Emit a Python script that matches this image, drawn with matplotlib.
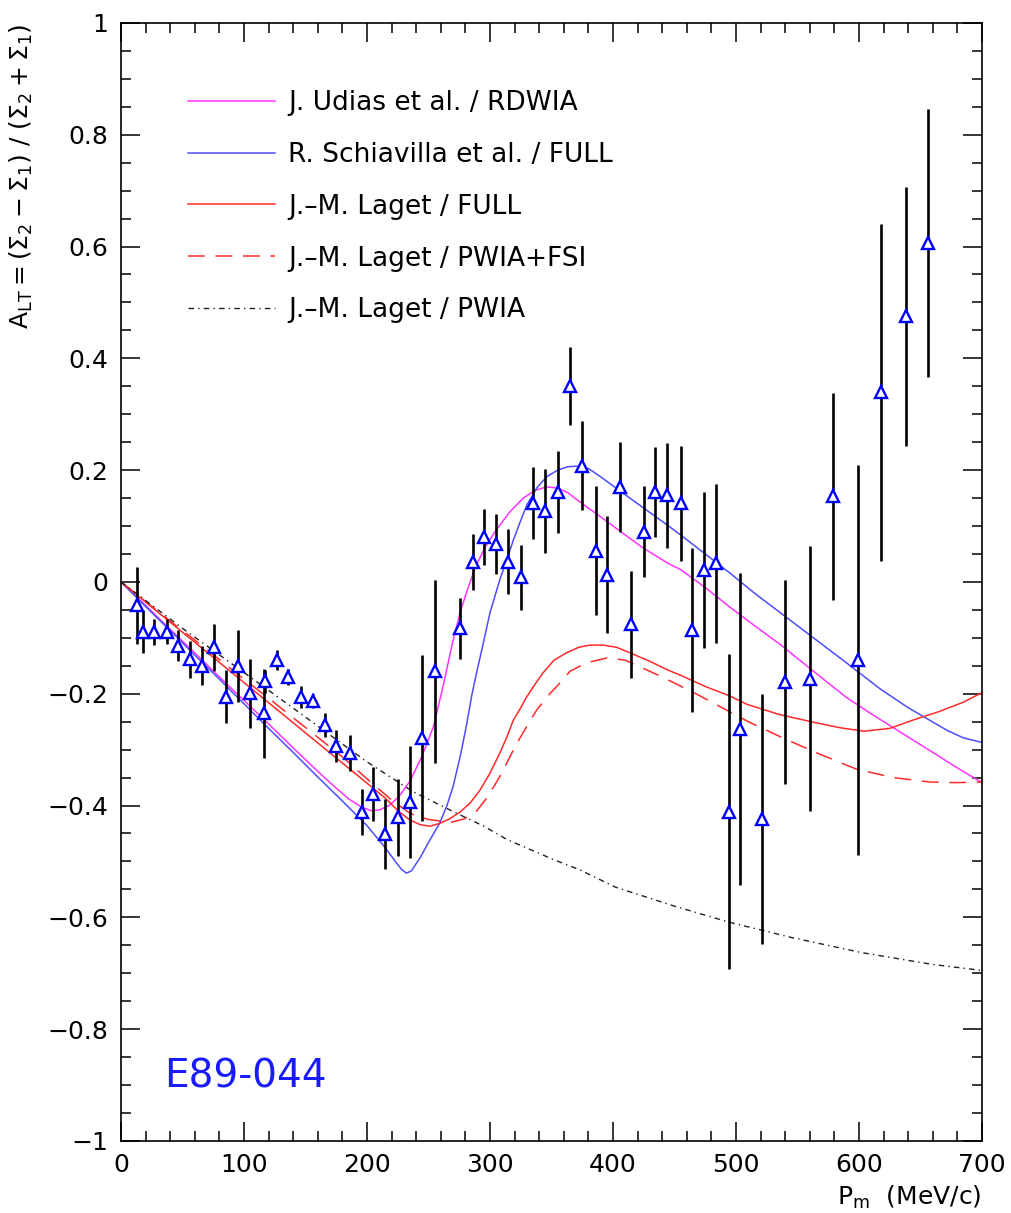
import numpy as np
import matplotlib
matplotlib.use("Agg")
import matplotlib.pyplot as plt

plt.rcParams['font.family'] = ['DejaVu Sans']
plt.rcParams['mathtext.default'] = 'regular'

# data points: missing momentum (MeV/c), asymmetry and its error
pm_data = [13, 18, 27, 37, 46, 56, 66, 76, 85, 95, 105, 116, 117, 127, 136, 146, 156, 166, 175,
           186, 196, 205, 215, 225, 235, 245, 255, 276, 286, 295, 305, 315, 325, 335, 345, 355,
           365, 375, 386, 395, 406, 415, 425, 434, 444, 455, 464, 474, 484, 494, 503, 521,
           540, 560, 579, 599, 618, 638, 656]
alt_data = [-0.042, -0.089, -0.089, -0.089, -0.114, -0.138, -0.150, -0.117, -0.205, -0.150,
            -0.199, -0.235, -0.178, -0.140, -0.170, -0.206, -0.213, -0.256, -0.294,
            -0.306, -0.412, -0.379, -0.451, -0.421, -0.394, -0.279, -0.160, -0.083, 0.036,
            0.081, 0.068, 0.036, 0.008, 0.141, 0.127, 0.161, 0.351, 0.208, 0.056, 0.013,
            0.170, -0.076, 0.090, 0.161, 0.155, 0.141, -0.086, 0.021, 0.033, -0.411, -0.263,
            -0.424, -0.179, -0.173, 0.153, -0.140, 0.339, 0.475, 0.606]
alt_err = [0.069, 0.038, 0.023, 0.022, 0.028, 0.033, 0.035, 0.042, 0.047, 0.064,
           0.062, 0.080, 0.020, 0.018, 0.015, 0.020, 0.012, 0.022, 0.029,
           0.033, 0.041, 0.048, 0.062, 0.069, 0.100, 0.149, 0.164, 0.054, 0.050,
           0.050, 0.054, 0.058, 0.058, 0.065, 0.075, 0.073, 0.070, 0.080, 0.116, 0.105,
           0.080, 0.095, 0.082, 0.081, 0.094, 0.103, 0.147, 0.140, 0.143, 0.282, 0.279,
           0.223, 0.182, 0.237, 0.185, 0.349, 0.301, 0.231, 0.240]

# J. Udias et al. / RDWIA
udias_x = [0, 20, 40, 60, 80, 100, 120, 140, 160, 172, 185, 195, 203, 210, 218, 226, 235, 244,
           254, 262, 270, 276, 282, 288, 296, 305, 316, 327, 337, 346, 355, 363, 375, 389, 405,
           425, 445, 455, 475, 495, 515, 536, 562, 590, 610, 631, 655, 678, 700]
udias_y = [0, -0.042, -0.085, -0.127, -0.170, -0.212, -0.254, -0.297, -0.339, -0.363, -0.388,
           -0.402, -0.409, -0.408, -0.400, -0.384, -0.356, -0.315, -0.259, -0.185, -0.104,
           -0.052, -0.012, 0.026, 0.062, 0.093, 0.125, 0.150, 0.164, 0.170, 0.168, 0.160,
           0.140, 0.118, 0.092, 0.060, 0.033, 0.022, -0.010, -0.045, -0.078, -0.112, -0.158,
           -0.207, -0.236, -0.265, -0.298, -0.330, -0.359]

# R. Schiavilla et al. / FULL
schia_x = [0, 20, 40, 60, 80, 100, 120, 140, 160, 180, 200, 215, 223, 228, 232, 236, 243, 251,
           259, 265, 270, 276, 281, 285, 289, 294, 300, 308, 314, 319, 325, 330, 338, 346, 355,
           363, 370, 380, 390, 403, 420, 444, 455, 475, 495, 515, 536, 560, 590, 617, 640, 658,
           672, 685, 700]
schia_y = [0, -0.044, -0.087, -0.131, -0.174, -0.218, -0.262, -0.305, -0.349, -0.392, -0.436,
           -0.476, -0.500, -0.514, -0.521, -0.517, -0.494, -0.462, -0.432, -0.400, -0.366,
           -0.310, -0.255, -0.205, -0.163, -0.115, -0.055, 0.004, 0.042, 0.075, 0.110, 0.138,
           0.168, 0.188, 0.200, 0.206, 0.207, 0.203, 0.188, 0.167, 0.140, 0.102, 0.084, 0.050,
           0.016, -0.020, -0.055, -0.095, -0.145, -0.191, -0.225, -0.248, -0.266, -0.279,
           -0.287]

# J.-M. Laget / FULL
laget_x = [0, 20, 40, 60, 80, 100, 120, 140, 160, 180, 200, 215, 226, 235, 243, 251, 259, 267,
           276, 284, 292, 300, 308, 314, 319, 325, 330, 336, 343, 352, 362, 372, 381, 392, 403,
           415, 430, 444, 455, 475, 495, 509, 535, 563, 585, 604, 625, 644, 665, 685, 700]
laget_y = [0, -0.036, -0.072, -0.108, -0.144, -0.180, -0.216, -0.252, -0.288, -0.324, -0.360,
           -0.387, -0.411, -0.426, -0.434, -0.437, -0.432, -0.424, -0.411, -0.395, -0.372,
           -0.342, -0.306, -0.276, -0.247, -0.225, -0.205, -0.185, -0.163, -0.140, -0.127,
           -0.117, -0.113, -0.113, -0.117, -0.128, -0.142, -0.157, -0.167, -0.187, -0.204,
           -0.219, -0.237, -0.251, -0.261, -0.267, -0.262, -0.247, -0.232, -0.215, -0.198]

# J.-M. Laget / PWIA+FSI
fsi_x = [0, 20, 40, 60, 80, 100, 120, 140, 160, 180, 205, 220, 235, 250, 268, 279, 289, 298,
         308, 315, 322, 330, 338, 349, 358, 365, 378, 395, 410, 422, 437, 452, 470, 487, 510,
         538, 568, 598, 628, 658, 680, 700]
fsi_y = [0, -0.035, -0.070, -0.104, -0.139, -0.174, -0.208, -0.243, -0.278, -0.313, -0.362,
         -0.390, -0.414, -0.425, -0.430, -0.424, -0.410, -0.385, -0.348, -0.318, -0.288,
         -0.258, -0.229, -0.199, -0.178, -0.160, -0.145, -0.136, -0.140, -0.152, -0.167,
         -0.183, -0.203, -0.223, -0.250, -0.279, -0.308, -0.335, -0.350, -0.358, -0.359, -0.358]

# J.-M. Laget / PWIA
pwia_x = [0, 50, 91, 127, 162, 200, 238, 274, 295, 314, 332, 352, 373, 402, 450, 495, 545,
          602, 659, 700]
pwia_y = [0, -0.083, -0.148, -0.205, -0.261, -0.322, -0.376, -0.415, -0.437, -0.461, -0.478,
          -0.497, -0.515, -0.546, -0.580, -0.609, -0.636, -0.663, -0.684, -0.695]

fig = plt.figure(figsize=(10.11, 12.13), dpi=100)
ax = fig.add_axes([0.1197, 0.0594, 0.8516, 0.9217])

ax.plot(udias_x, udias_y, color='#ff33ff', lw=1.1, label='J. Udias et al. / RDWIA')
ax.plot(schia_x, schia_y, color='#4d4dff', lw=1.1, label='R. Schiavilla et al. / FULL')
ax.plot(laget_x, laget_y, color='#ff2a2a', lw=1.1, label='J.\u2013M. Laget / FULL')
ax.plot(fsi_x, fsi_y, color='#ff2a2a', lw=1.1, ls=(0, (11, 7)), label='J.\u2013M. Laget / PWIA+FSI')
ax.plot(pwia_x, pwia_y, color='#222222', lw=1.0, ls=(0, (4, 3, 1, 3)), label='J.\u2013M. Laget / PWIA')

ax.errorbar(pm_data, alt_data, yerr=alt_err, fmt='none', ecolor='black', elinewidth=1.9, capsize=0)
ax.plot(pm_data, alt_data, ls='none', marker='^', ms=8.5, mfc='white', mec='#0000ff', mew=1.7)

ax.set_xlim(0, 700)
ax.set_ylim(-1, 1)
ax.set_xticks(np.arange(0, 701, 100))
ax.set_xticks(np.arange(0, 701, 20), minor=True)
ax.set_yticks(np.arange(-1, 1.01, 0.2))
ax.set_yticks(np.arange(-1, 1.01, 0.05), minor=True)
ax.set_xticklabels([str(v) for v in range(0, 701, 100)])
ylabs = ['\u22121', '\u22120.8', '\u22120.6', '\u22120.4', '\u22120.2', '0', '0.2', '0.4', '0.6', '0.8', '1']
ax.set_yticklabels(ylabs)

ax.tick_params(which='both', direction='in', top=True, right=True, width=1.1, labelsize=18, pad=9)
ax.tick_params(which='major', length=14)
ax.tick_params(which='minor', length=7)
for sp in ax.spines.values():
    sp.set_linewidth(1.2)

ax.set_xlabel(r'P$_m$  (MeV/c)', fontsize=18, loc='right')
ax.xaxis.set_label_coords(1.0, -0.038)
ax.set_ylabel(r'$A_{LT} = (\Sigma_2 - \Sigma_1)\ /\ (\Sigma_2 + \Sigma_1)$', fontsize=18, loc='top')
ax.yaxis.set_label_coords(-0.1, 1.0)

ax.text(0.05, 0.058, 'E89-044', color='#1a1aff', fontsize=28, transform=ax.transAxes,
        ha='left', va='center')

ax.legend(loc='upper left', bbox_to_anchor=(0.078, 0.94), frameon=False, fontsize=19,
          handlelength=3.3, handletextpad=0.5, labelspacing=0.98, borderpad=0, borderaxespad=0)

fig.savefig('out.png', dpi=100, facecolor='white')
